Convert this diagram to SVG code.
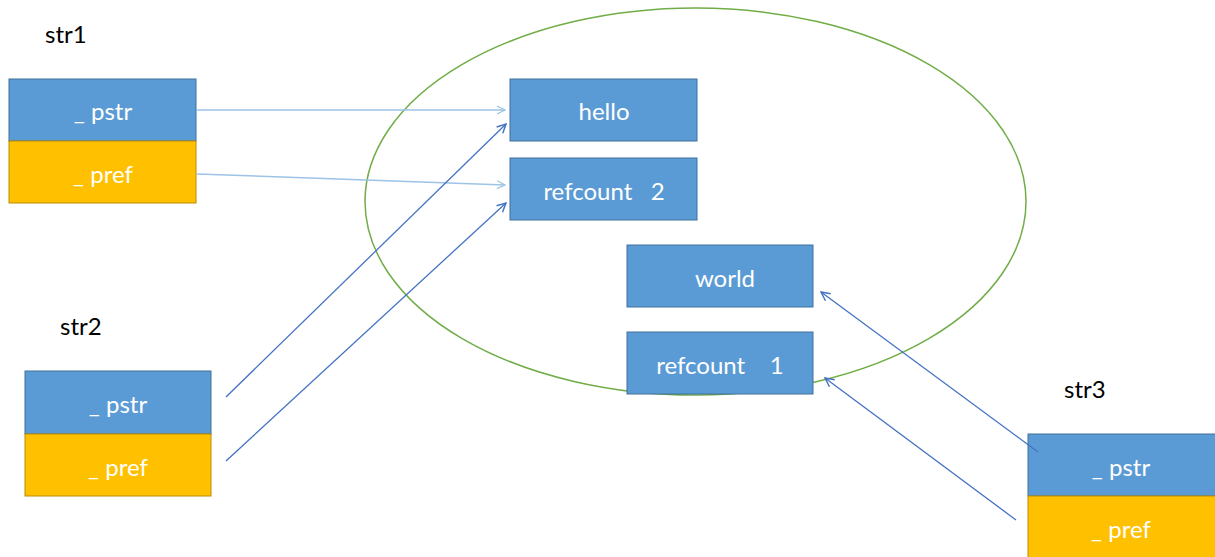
<svg xmlns="http://www.w3.org/2000/svg" width="1215" height="557" viewBox="0 0 1215 557">
<style>
.blue{fill:#5B9BD5;stroke:#41719C;stroke-width:1}
.gold{fill:#FFC000;stroke:#BC8C00;stroke-width:1}
.t{font-family:Lato,"Liberation Sans",sans-serif;font-size:24px;fill:#fff;text-anchor:middle}
.lbl{font-family:Lato,"Liberation Sans",sans-serif;font-size:24px;fill:#000}
.light{stroke:#9DC3E6;stroke-width:1.5;fill:none;marker-end:url(#al)}
.dark{stroke:#4472C4;stroke-width:1.3;fill:none;marker-end:url(#ad)}
</style>
<defs>
<marker id="al" viewBox="0 0 10 10" refX="9" refY="5" markerWidth="10" markerHeight="10" markerUnits="userSpaceOnUse" orient="auto"><path d="M1,1 L9,5 L1,9" fill="none" stroke="#9DC3E6" stroke-width="1.3"/></marker>
<marker id="ad" viewBox="0 0 10 10" refX="9" refY="5" markerWidth="11" markerHeight="11" markerUnits="userSpaceOnUse" orient="auto"><path d="M1,1 L9,5 L1,9" fill="none" stroke="#4472C4" stroke-width="1.3"/></marker>
</defs>
<rect width="1215" height="557" fill="#fff"/>
<g id="heap"><ellipse cx="695.5" cy="201.5" rx="330.5" ry="193.5" fill="none" stroke="#70AD47" stroke-width="1.5"/></g>
<g id="hello"><rect class="blue" x="510" y="79" width="187" height="62"/><text class="t" x="604" y="120">hello</text></g>
<g id="refcount2"><rect class="blue" x="510" y="158" width="187" height="62"/><text class="t" x="604" y="200" xml:space="preserve">refcount   2</text></g>
<g id="world"><rect class="blue" x="627" y="245" width="186" height="62"/><text class="t" x="725" y="287">world</text></g>
<g id="refcount1"><rect class="blue" x="627" y="332" width="186" height="62"/><text class="t" x="720" y="374" xml:space="preserve">refcount    1</text></g>
<g id="str1"><text class="lbl" x="45" y="43">str1</text><rect class="blue" x="9" y="79" width="187" height="62"/><text class="t" x="103" y="120">_ pstr</text><rect class="gold" x="9" y="141" width="187" height="62"/><text class="t" x="103" y="183">_ pref</text></g>
<g id="str2"><text class="lbl" x="60" y="335">str2</text><rect class="blue" x="25" y="371" width="186" height="63"/><text class="t" x="118" y="413">_ pstr</text><rect class="gold" x="25" y="434" width="186" height="62"/><text class="t" x="118" y="476">_ pref</text></g>
<g id="str3"><text class="lbl" x="1064" y="398">str3</text><rect class="blue" x="1028" y="434" width="190" height="62"/><text class="t" x="1121" y="476">_ pstr</text><rect class="gold" x="1028" y="496" width="190" height="62"/><text class="t" x="1121" y="538">_ pref</text></g>
<g id="connectors">
<line class="light" x1="197" y1="110" x2="505" y2="110"/>
<line class="light" x1="197" y1="174" x2="505" y2="185"/>
<line class="dark" x1="226" y1="397" x2="506" y2="124"/>
<line class="dark" x1="226" y1="461" x2="506" y2="203"/>
<line class="dark" x1="1038" y1="452" x2="821" y2="292"/>
<line class="dark" x1="1016" y1="520" x2="825" y2="378"/>
</g>
</svg>
